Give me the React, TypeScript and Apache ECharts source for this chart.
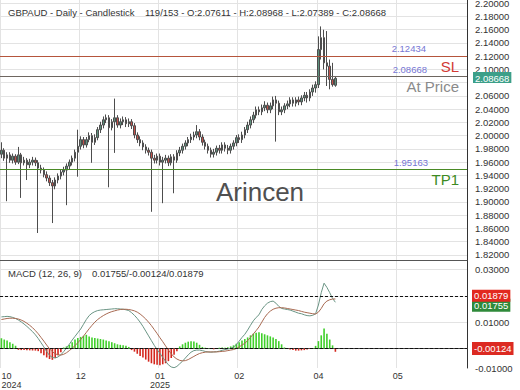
import React, { useEffect, useRef } from 'react';
import * as echarts from 'echarts';

const FONT = '"Liberation Sans", Arial, Helvetica, sans-serif';

// ---- price data (one entry per daily candle) ----
const openP = [
  1.972, 1.978, 1.966, 1.971, 1.963, 1.969, 1.960, 1.971, 1.959, 1.963,
  1.956, 1.960, 1.963, 1.959, 1.951, 1.948, 1.941, 1.936, 1.929, 1.924,
  1.933, 1.939, 1.945, 1.948, 1.954, 1.960, 1.966, 1.975, 1.984, 1.994,
  1.986, 1.994, 2.000, 1.990, 1.997, 2.009, 2.016, 2.024, 2.027, 2.012,
  2.021, 2.027, 2.016, 2.021, 2.024, 2.018, 2.021, 2.015, 2.001, 1.994,
  1.989, 1.983, 1.978, 1.975, 1.966, 1.963, 1.969, 1.960, 1.963, 1.966,
  1.959, 1.968, 1.963, 1.974, 1.978, 1.984, 1.989, 1.994, 1.998, 2.001,
  2.006, 1.998, 1.990, 1.984, 1.978, 1.972, 1.975, 1.981, 1.978, 1.986,
  1.981, 1.978, 1.984, 1.989, 1.997, 1.994, 2.001, 2.009, 2.016, 2.024,
  2.031, 2.039, 2.036, 2.042, 2.046, 2.039, 2.045, 2.054, 2.049, 2.036,
  2.039, 2.045, 2.048, 2.054, 2.049, 2.054, 2.051, 2.057, 2.061, 2.057,
  2.066, 2.072, 2.077, 2.130, 2.148, 2.110, 2.105, 2.085, 2.07611,
];
const closeP = [
  1.978, 1.966, 1.971, 1.963, 1.969, 1.960, 1.971, 1.959, 1.963, 1.956,
  1.960, 1.963, 1.959, 1.951, 1.948, 1.941, 1.936, 1.929, 1.924, 1.933,
  1.939, 1.945, 1.948, 1.954, 1.960, 1.966, 1.975, 1.984, 1.994, 1.986,
  1.994, 2.000, 1.990, 1.997, 2.009, 2.016, 2.024, 2.027, 2.012, 2.021,
  2.027, 2.016, 2.021, 2.024, 2.018, 2.021, 2.015, 2.001, 1.994, 1.989,
  1.983, 1.978, 1.975, 1.966, 1.963, 1.969, 1.960, 1.963, 1.966, 1.959,
  1.968, 1.963, 1.974, 1.978, 1.984, 1.989, 1.994, 1.998, 2.001, 2.006,
  1.998, 1.990, 1.984, 1.978, 1.972, 1.975, 1.981, 1.978, 1.986, 1.981,
  1.978, 1.984, 1.989, 1.997, 1.994, 2.001, 2.009, 2.016, 2.024, 2.031,
  2.039, 2.036, 2.042, 2.046, 2.039, 2.045, 2.054, 2.049, 2.036, 2.039,
  2.045, 2.048, 2.054, 2.049, 2.054, 2.051, 2.057, 2.061, 2.057, 2.066,
  2.072, 2.077, 2.130, 2.148, 2.110, 2.105, 2.085, 2.077, 2.08668,
];
const highP = [
  1.990, 1.981, 1.975, 1.975, 1.973, 1.972, 1.983, 1.974, 1.968, 1.966,
  1.965, 1.968, 1.967, 1.963, 1.956, 1.952, 1.946, 1.940, 1.933, 1.937,
  1.943, 1.949, 1.953, 1.958, 1.964, 1.970, 1.979, 2.009, 1.999, 1.998,
  1.998, 2.005, 2.004, 2.002, 2.013, 2.021, 2.029, 2.032, 2.031, 2.025,
  2.056, 2.031, 2.026, 2.029, 2.028, 2.026, 2.025, 2.019, 2.005, 1.999,
  1.993, 1.987, 1.982, 1.979, 1.971, 1.973, 1.973, 1.968, 1.971, 1.970,
  1.972, 1.972, 1.978, 1.983, 1.988, 1.993, 1.998, 2.003, 2.006, 2.016,
  2.010, 2.002, 1.994, 1.988, 1.982, 1.980, 1.985, 1.986, 1.990, 1.990,
  1.986, 1.988, 1.993, 2.001, 2.002, 2.006, 2.013, 2.021, 2.029, 2.036,
  2.044, 2.044, 2.047, 2.052, 2.050, 2.050, 2.059, 2.060, 2.053, 2.044,
  2.049, 2.053, 2.058, 2.058, 2.058, 2.059, 2.061, 2.066, 2.066, 2.070,
  2.077, 2.082, 2.150, 2.165, 2.160, 2.158, 2.115, 2.110, 2.08968,
];
const lowP = [
  1.966, 1.962, 1.901, 1.959, 1.958, 1.956, 1.957, 1.906, 1.955, 1.933,
  1.951, 1.955, 1.954, 1.853, 1.943, 1.937, 1.931, 1.924, 1.868, 1.919,
  1.928, 1.934, 1.940, 1.895, 1.949, 1.955, 1.961, 1.938, 1.979, 1.981,
  1.982, 1.990, 1.959, 1.986, 1.993, 2.004, 2.011, 2.019, 1.922, 2.008,
  1.974, 2.012, 2.011, 2.016, 2.013, 2.013, 2.010, 1.996, 1.989, 1.984,
  1.978, 1.973, 1.970, 1.885, 1.958, 1.958, 1.955, 1.898, 1.958, 1.954,
  1.955, 1.913, 1.959, 1.969, 1.973, 1.979, 1.984, 1.989, 1.993, 1.996,
  1.993, 1.985, 1.979, 1.973, 1.967, 1.967, 1.970, 1.973, 1.973, 1.976,
  1.972, 1.973, 1.979, 1.984, 1.989, 1.989, 1.996, 2.004, 2.011, 2.019,
  2.026, 2.031, 2.031, 2.037, 2.034, 2.034, 2.040, 1.991, 2.031, 2.031,
  2.034, 2.040, 2.043, 2.044, 2.044, 2.046, 2.046, 2.052, 2.050, 2.052,
  2.060, 2.065, 2.072, 2.115, 2.100, 2.075, 2.070, 2.074, 2.07389,
];

// ---- MACD (12, 26, 9) ----
const macdLine = [
  0.0120, 0.0121, 0.0122, 0.0121, 0.0118, 0.0114, 0.0108, 0.0101, 0.0093, 0.0084,
  0.0074, 0.0064, 0.0052, 0.0038, 0.0022, 0.0006, -0.0012, -0.0026, -0.0034, -0.0036,
  -0.0032, -0.0024, -0.0012, 0.0002, 0.0016, 0.0032, 0.0046, 0.0060, 0.0074, 0.0092,
  0.0110, 0.0125, 0.0134, 0.0140, 0.0144, 0.0146, 0.0147, 0.0148, 0.0149, 0.0150,
  0.0151, 0.0151, 0.0150, 0.0149, 0.0147, 0.0144, 0.0136, 0.0126, 0.0114, 0.0100,
  0.0084, 0.0066, 0.0048, 0.0030, 0.0012, -0.0004, -0.0018, -0.0034, -0.0048, -0.0062,
  -0.0070, -0.0073, -0.0068, -0.0058, -0.0048, -0.0036, -0.0024, -0.0014, -0.0008, -0.0006,
  -0.0006, -0.0008, -0.0011, -0.0013, -0.0014, -0.0013, -0.0012, -0.0010, -0.0007, -0.0004,
  -0.0002, 0.0001, 0.0005, 0.0015, 0.0028, 0.0042, 0.0054, 0.0070, 0.0088, 0.0105,
  0.0118, 0.0128, 0.0148, 0.0162, 0.0172, 0.0178, 0.0180, 0.0172, 0.0160, 0.0152,
  0.0150, 0.0148, 0.0146, 0.0142, 0.0138, 0.0134, 0.0132, 0.0128, 0.0125, 0.0124,
  0.0126, 0.0132, 0.0165, 0.0212, 0.0248, 0.0232, 0.0212, 0.0190, 0.01755,
];
const signalLine = [
  0.0110, 0.0112, 0.0114, 0.0115, 0.0115, 0.0114, 0.0112, 0.0108, 0.0103, 0.0096,
  0.0088, 0.0079, 0.0068, 0.0056, 0.0042, 0.0028, 0.0013, -0.0001, -0.0012, -0.0020,
  -0.0024, -0.0025, -0.0022, -0.0016, -0.0008, 0.0001, 0.0011, 0.0022, 0.0034, 0.0047,
  0.0061, 0.0075, 0.0088, 0.0100, 0.0110, 0.0118, 0.0125, 0.0131, 0.0136, 0.0140,
  0.0143, 0.0146, 0.0148, 0.0149, 0.0149, 0.0148, 0.0146, 0.0143, 0.0138, 0.0131,
  0.0122, 0.0112, 0.0100, 0.0087, 0.0072, 0.0057, 0.0041, 0.0026, 0.0010, -0.0006,
  -0.0020, -0.0032, -0.0040, -0.0045, -0.0047, -0.0046, -0.0042, -0.0036, -0.0030, -0.0024,
  -0.0019, -0.0016, -0.0014, -0.0013, -0.0013, -0.0013, -0.0013, -0.0012, -0.0011, -0.0010,
  -0.0008, -0.0006, -0.0004, 0.0000, 0.0006, 0.0013, 0.0020, 0.0030, 0.0042, 0.0055,
  0.0068, 0.0082, 0.0100, 0.0118, 0.0132, 0.0142, 0.0149, 0.0153, 0.0155, 0.0155,
  0.0154, 0.0152, 0.0150, 0.0148, 0.0146, 0.0144, 0.0141, 0.0138, 0.0136, 0.0134,
  0.0132, 0.0131, 0.0138, 0.0152, 0.0170, 0.0180, 0.0185, 0.0188, 0.01879,
];
const histBars = [
  0.0039, 0.0034, 0.0030, 0.0024, 0.0018, 0.0010, -0.0005, -0.0006, -0.0006, -0.0007,
  -0.0007, -0.0008, -0.0008, -0.0010, -0.0018, -0.0026, -0.0034, -0.0040, -0.0043, -0.0036,
  -0.0026, -0.0014, 0.0004, 0.0008, 0.0014, 0.0024, 0.0034, 0.0040, 0.0044, 0.0048,
  0.0052, 0.0046, 0.0042, 0.0040, 0.0038, 0.0036, 0.0034, 0.0030, 0.0028, 0.0024,
  0.0020, 0.0016, 0.0014, 0.0012, 0.0010, 0.0006, -0.0006, -0.0012, -0.0020, -0.0028,
  -0.0034, -0.0042, -0.0050, -0.0056, -0.0060, -0.0062, -0.0064, -0.0060, -0.0056, -0.0048,
  -0.0036, -0.0024, -0.0010, 0.0008, 0.0016, 0.0022, 0.0026, 0.0028, 0.0027, 0.0022,
  0.0014, 0.0006, 0.0003, 0.0002, -0.0002, -0.0003, 0.0002, 0.0003, 0.0004, 0.0003,
  0.0005, 0.0008, 0.0012, 0.0018, 0.0024, 0.0030, 0.0036, 0.0042, 0.0050, 0.0056,
  0.0060, 0.0062, 0.0058, 0.0054, 0.0050, 0.0046, 0.0042, 0.0036, 0.0028, 0.0016,
  0.0004, -0.0002, -0.0004, -0.0006, -0.0008, -0.0008, -0.0007, -0.0006, -0.0004, -0.0002,
  0.0002, 0.0010, 0.0028, 0.0050, 0.0076, 0.0056, 0.0034, 0.0012, -0.00124,
];

// ---- axes / levels ----
const SLOT_COUNT = 165;
const monthLabels = ['10\n2024', '12', '01\n2025', '02', '04', '05'];
const monthTickIdx = [0, 28, 56, 84, 112, 140];
const priceTicks = [1.82, 1.84, 1.86, 1.88, 1.9, 1.92, 1.94, 1.96, 1.98, 2.0, 2.02, 2.04, 2.06, 2.08, 2.1, 2.12, 2.14, 2.16, 2.18, 2.2];
const priceLabelTicks = [1.82, 1.84, 1.86, 1.88, 1.9, 1.92, 1.94, 1.96, 1.98, 2.0, 2.02, 2.04, 2.06, 2.1, 2.12, 2.14, 2.16, 2.18, 2.2];
const PRICE_MIN = 1.8122;
const PRICE_MAX = 2.2049;
const PRICE_MIN_LABEL = '1.80000';
const macdTicks = [0, 0.01, 0.02, 0.03];
const macdLabelTicks = [0.01, 0.03];
const MACD_MIN = -0.0074;
const MACD_MAX = 0.0336;
const MACD_MIN_LABEL = '-0.01000';
const SL_LEVEL = 2.12434;
const CUR_LEVEL = 2.08668;
const TP1_LEVEL = 1.95163;
const MACD_NOW = 0.01755;
const HIST_NOW = -0.00124;
const SIGNAL_NOW = 0.01879;
const BAR_NO = 119;
const BAR_TOTAL = 153;

const categories = Array.from({ length: SLOT_COUNT }, (_, i) => String(i));
const candleData = openP.map((o, i) => [o, closeP[i], lowP[i], highP[i]]);
const last = openP.length - 1;

const isMonthTick = (idx: number) => monthTickIdx.indexOf(idx) >= 0;
const f5 = (v: number) => v.toFixed(5);

const purpleLabel = (v: number, pad: number, dist: number) => ({
  show: true, position: 'insideEndTop', formatter: f5(v), color: '#7676d4',
  fontSize: 9.5, fontFamily: FONT, padding: [0, pad, 0, 0], distance: dist,
});
const bigLabel = (text: string, color: string, pad: number, dist: number) => ({
  show: true, position: 'insideEndBottom', formatter: text, color,
  fontSize: 15, fontFamily: FONT, padding: [0, pad, 0, 0], distance: dist,
});
const hidden = { color: 'rgba(0,0,0,0)', width: 0 };

const option: any = {
  animation: false,
  backgroundColor: '#ffffff',
  textStyle: { fontFamily: FONT },
  grid: [
    { left: 0, right: 53, top: 0, height: 260, show: false, containLabel: false, outerBoundsMode: 'none' },
    { left: 0, right: 53, top: 260, height: 108, show: false, containLabel: false, outerBoundsMode: 'none' },
  ],
  xAxis: [
    {
      type: 'category', gridIndex: 0, data: categories, boundaryGap: true,
      axisLine: { show: true, lineStyle: { color: '#555', width: 1 } },
      axisTick: { show: false }, axisLabel: { show: false },
      splitLine: { show: true, interval: (i: number) => isMonthTick(i), lineStyle: { color: '#e3e3e3', width: 1 } },
    },
    {
      type: 'category', gridIndex: 1, data: categories, boundaryGap: true,
      axisLine: { show: true, lineStyle: { color: '#444', width: 1 } },
      axisTick: { show: false },
      axisLabel: {
        show: true, interval: (i: number) => isMonthTick(i), alignMinLabel: 'left',
        formatter: (_v: string, i: number) => { const k = monthTickIdx.indexOf(i); return k >= 0 ? monthLabels[k] : ''; },
        color: '#333', fontSize: 9, lineHeight: 9, margin: 3, fontFamily: FONT,
      },
      splitLine: { show: true, interval: (i: number) => isMonthTick(i), lineStyle: { color: '#e3e3e3', width: 1 } },
    },
  ],
  yAxis: [
    {
      type: 'value', gridIndex: 0, position: 'right', min: PRICE_MIN, max: PRICE_MAX, scale: true,
      axisLine: { show: true, lineStyle: { color: '#333', width: 1 } },
      axisTick: { show: false, customValues: priceTicks },
      axisLabel: {
        show: true, customValues: [PRICE_MIN, ...priceLabelTicks], margin: 8, color: '#333', fontSize: 9.5, lineHeight: 9, fontFamily: FONT,
        formatter: (v: number) => (Math.abs(v - PRICE_MIN) < 1e-9 ? PRICE_MIN_LABEL : f5(v)),
      },
      splitLine: { show: true, lineStyle: { color: '#e3e3e3', width: 1 } },
    },
    {
      type: 'value', gridIndex: 1, position: 'right', min: MACD_MIN, max: MACD_MAX, scale: true,
      axisLine: { show: true, lineStyle: { color: '#333', width: 1 } },
      axisTick: { show: false, customValues: macdTicks },
      axisLabel: {
        show: true, customValues: [MACD_MIN, ...macdLabelTicks], margin: 8, color: '#333', fontSize: 9.5, lineHeight: 9, fontFamily: FONT,
        formatter: (v: number) => (Math.abs(v - MACD_MIN) < 1e-9 ? MACD_MIN_LABEL : f5(v)),
      },
      splitLine: { show: true, lineStyle: { color: '#e3e3e3', width: 1 } },
    },
  ],
  series: [
    {
      type: 'candlestick', xAxisIndex: 0, yAxisIndex: 0, data: candleData, barWidth: 2,
      itemStyle: { color: '#5e917d', color0: '#c4504a', borderColor: '#4d4d4d', borderColor0: '#4d4d4d', borderWidth: 1 },
      markLine: {
        symbol: ['none', 'none'], silent: true, animation: false,
        data: [
          { yAxis: SL_LEVEL, lineStyle: { color: '#b5553c', width: 1, type: 'solid' }, label: purpleLabel(SL_LEVEL, 38, 3) },
          { yAxis: SL_LEVEL, lineStyle: hidden, label: bigLabel('SL', '#d23a34', 5, 3) },
          { yAxis: CUR_LEVEL, lineStyle: { color: '#6e6660', width: 1, type: 'solid' }, label: purpleLabel(CUR_LEVEL, 38, 2) },
          { yAxis: CUR_LEVEL, lineStyle: hidden, label: bigLabel('At Price', '#8a8a8a', 5, 3) },
          {
            yAxis: CUR_LEVEL, lineStyle: hidden,
            label: {
              show: true, position: 'end', distance: 6, formatter: '{p|' + f5(CUR_LEVEL) + '}', padding: [3, 0, 0, 0],
              rich: { p: { color: '#ffffff', backgroundColor: '#3c9f89', padding: [1, 2, 0, 2], fontSize: 9.5, lineHeight: 10, fontFamily: FONT } },
            },
          },
          { yAxis: TP1_LEVEL, lineStyle: { color: '#4a8a26', width: 1, type: 'solid' }, label: purpleLabel(TP1_LEVEL, 38, 1) },
          { yAxis: TP1_LEVEL, lineStyle: hidden, label: bigLabel('TP1', '#3d8a22', 5, 3) },
        ],
      },
    },
    {
      type: 'bar', xAxisIndex: 1, yAxisIndex: 1, data: histBars, barWidth: 1.6,
      itemStyle: { color: (p: any) => (p.value >= 0 ? '#40cf2b' : '#d4261d') },
      markLine: {
        symbol: ['none', 'none'], silent: true, animation: false,
        data: [
          {
            yAxis: HIST_NOW, lineStyle: { color: '#111', width: 1, type: [3, 2] },
            label: { show: true, position: 'end', distance: 5, formatter: f5(HIST_NOW), color: '#fff', backgroundColor: '#dc2a22', padding: [2, 2, 1, 2], fontSize: 9.5, fontFamily: FONT },
          },
        ],
      },
    },
    {
      type: 'line', xAxisIndex: 1, yAxisIndex: 1, data: macdLine, symbol: 'none',
      lineStyle: { color: '#6a9484', width: 1 },
      markLine: {
        symbol: ['none', 'none'], silent: true, animation: false,
        data: [
          {
            yAxis: MACD_NOW, lineStyle: { color: '#111', width: 1, type: [3, 2] },
            label: {
              show: true, position: 'end', distance: 5, formatter: '{b|' + f5(MACD_NOW) + '}', padding: [19, 0, 0, 0],
              rich: { b: { color: '#fff', backgroundColor: '#2f8a3a', padding: [2, 2, 1, 2], fontSize: 9.5, fontFamily: FONT } },
            },
          },
        ],
      },
    },
    {
      type: 'line', xAxisIndex: 1, yAxisIndex: 1, data: signalLine, symbol: 'none',
      lineStyle: { color: '#a86a52', width: 1 },
      markLine: {
        symbol: ['none', 'none'], silent: true, animation: false,
        data: [
          {
            yAxis: SIGNAL_NOW, lineStyle: { color: '#111', width: 1, type: [3, 2] },
            label: { show: true, position: 'end', distance: 5, formatter: f5(SIGNAL_NOW), color: '#fff', backgroundColor: '#e2291f', padding: [1, 2, 1, 2], fontSize: 9.5, fontFamily: FONT },
          },
        ],
      },
    },
  ],
  graphic: [
    { type: 'text', x: 8, y: 12.5, z: 20, style: { text: 'GBPAUD - Daily - Candlestick', fill: '#333', font: `9.5px ${FONT}`, verticalAlign: 'middle' } },
    {
      type: 'text', x: 145, y: 12.5, z: 20,
      style: {
        text: `${BAR_NO}/${BAR_TOTAL} - O:${f5(openP[last])} - H:${f5(highP[last])} - L:${f5(lowP[last])} - C:${f5(closeP[last])}`,
        fill: '#333', font: `9.5px ${FONT}`, verticalAlign: 'middle',
      },
    },
    { type: 'text', x: 8, y: 273.5, z: 20, style: { text: 'MACD (12, 26, 9)', fill: '#333', font: `9.5px ${FONT}`, verticalAlign: 'middle' } },
    {
      type: 'text', x: 92, y: 273.5, z: 20,
      style: { text: `${f5(MACD_NOW)}/${f5(HIST_NOW)}/${f5(SIGNAL_NOW)}`, fill: '#333', font: `9.5px ${FONT}`, verticalAlign: 'middle' },
    },
    { type: 'text', x: 260, y: 192, z: 20, style: { text: 'Arincen', fill: '#505050', font: `26px ${FONT}`, align: 'center', verticalAlign: 'middle' } },
  ],
};

export default function App() {
  const ref = useRef<HTMLDivElement>(null);
  useEffect(() => {
    if (!ref.current) return;
    const chart = echarts.init(ref.current, null, { renderer: 'svg' });
    chart.setOption(option);
    return () => chart.dispose();
  }, []);
  return <div ref={ref} style={{ position: 'fixed', left: 0, top: 0, width: 520, height: 390 }} />;
}
